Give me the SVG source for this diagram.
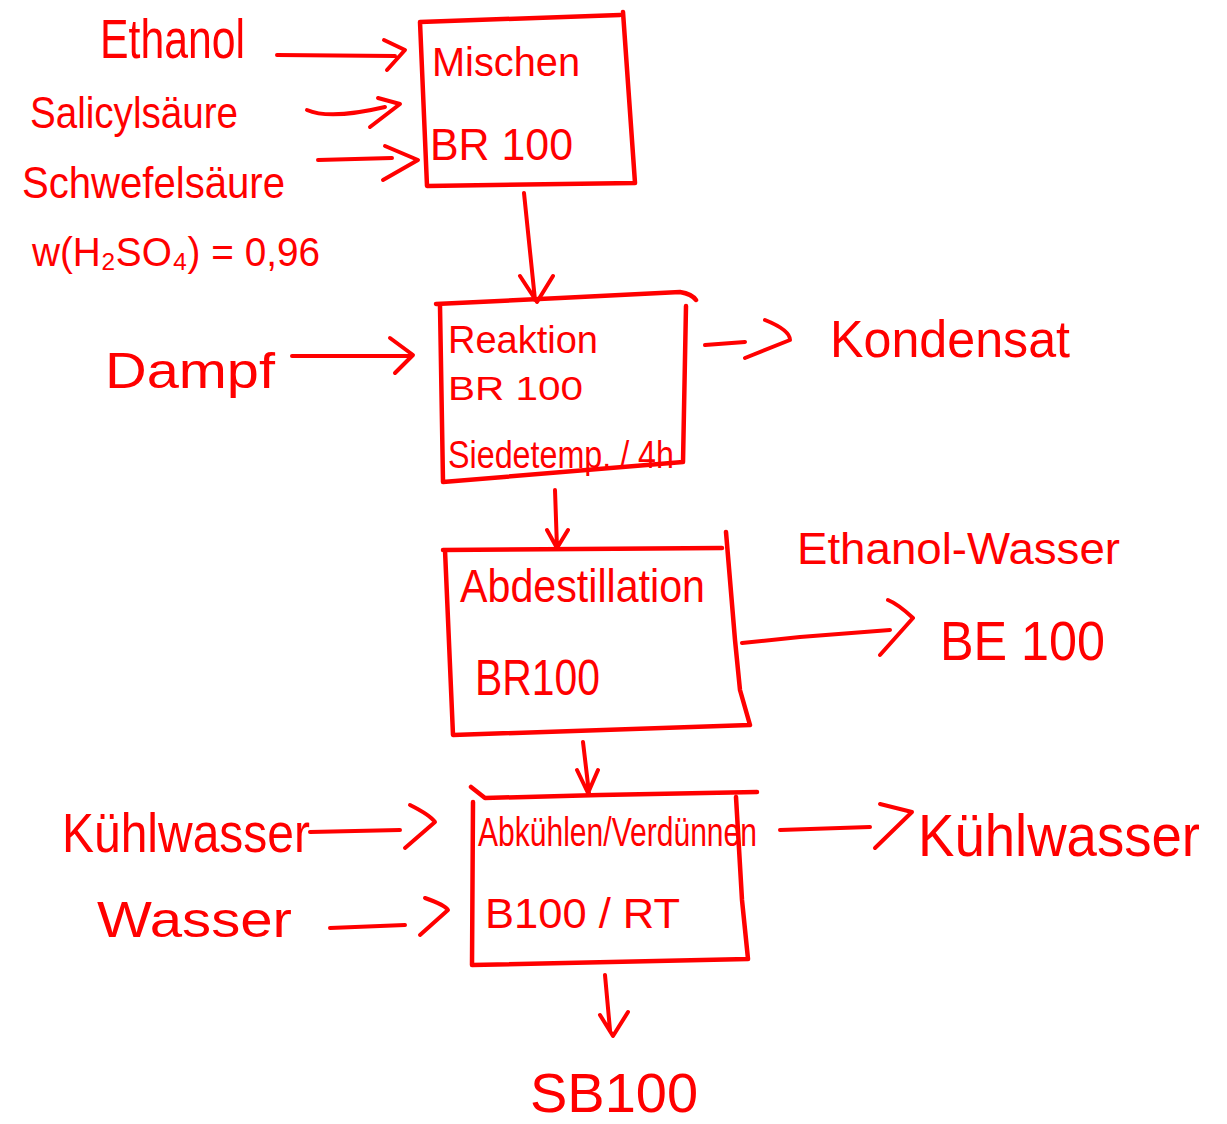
<svg xmlns="http://www.w3.org/2000/svg" width="1227" height="1124" viewBox="0 0 1227 1124">
<style>
.s{fill:none;stroke:#ff0000;stroke-width:4;stroke-linecap:round;stroke-linejoin:round}
.b{fill:none;stroke:#ff0000;stroke-width:4.5;stroke-linecap:round;stroke-linejoin:round}
text{fill:#ff0000;font-family:"Liberation Sans","DejaVu Sans",sans-serif;font-weight:normal}
</style>
<rect width="1227" height="1124" fill="#ffffff"/>
<g id="inputs">
<text x="100" y="58" font-size="55" textLength="145" lengthAdjust="spacingAndGlyphs">Ethanol</text>
<text x="30" y="128" font-size="44" textLength="208" lengthAdjust="spacingAndGlyphs">Salicylsäure</text>
<text x="22" y="198" font-size="44" textLength="263" lengthAdjust="spacingAndGlyphs">Schwefelsäure</text>
<text x="32" y="266" font-size="40" textLength="288" lengthAdjust="spacingAndGlyphs">w(H₂SO₄) = 0,96</text>
<text x="105" y="388" font-size="50" textLength="170" lengthAdjust="spacingAndGlyphs">Dampf</text>
<text x="62" y="852" font-size="55" textLength="248" lengthAdjust="spacingAndGlyphs">Kühlwasser</text>
<text x="97" y="937" font-size="50" textLength="195" lengthAdjust="spacingAndGlyphs">Wasser</text>
</g>
<g id="outputs">
<text x="830" y="357" font-size="52" textLength="240" lengthAdjust="spacingAndGlyphs">Kondensat</text>
<text x="797" y="564" font-size="44" textLength="323" lengthAdjust="spacingAndGlyphs">Ethanol-Wasser</text>
<text x="940" y="660" font-size="56" textLength="165" lengthAdjust="spacingAndGlyphs">BE 100</text>
<text x="918" y="856" font-size="60" textLength="282" lengthAdjust="spacingAndGlyphs">Kühlwasser</text>
<text x="530" y="1112" font-size="56" textLength="168" lengthAdjust="spacingAndGlyphs">SB100</text>
</g>
<g id="mischen">
<path class="b" d="M420 22 L620 15 M420 22 L427 186 L635 183 M623 12 L635 183"/>
<text x="432" y="76" font-size="40" textLength="148" lengthAdjust="spacingAndGlyphs">Mischen</text>
<text x="430" y="160" font-size="44" textLength="143" lengthAdjust="spacingAndGlyphs">BR 100</text>
</g>
<g id="reaktion">
<path class="b" d="M436 304 L560 298 L680 292 Q692 294 696 300 M440 306 L443 482 L683 462 M686 306 L683 462"/>
<text x="448" y="353" font-size="38" textLength="150" lengthAdjust="spacingAndGlyphs">Reaktion</text>
<text x="448" y="400" font-size="34" textLength="135" lengthAdjust="spacingAndGlyphs">BR 100</text>
<text x="448" y="468" font-size="38" textLength="226" lengthAdjust="spacingAndGlyphs">Siedetemp. / 4h</text>
</g>
<g id="abdestillation">
<path class="b" d="M443 550 L722 548 M445 550 L453 735 L750 725 M726 532 L735 640 L740 690 L750 725"/>
<text x="460" y="602" font-size="46" textLength="245" lengthAdjust="spacingAndGlyphs">Abdestillation</text>
<text x="475" y="695" font-size="50" textLength="125" lengthAdjust="spacingAndGlyphs">BR100</text>
</g>
<g id="abkuehlen">
<path class="b" d="M471 787 L485 798 L600 795 L757 792 M473 802 L472 965 L748 959 M736 797 L742 900 L748 959"/>
<text x="478" y="846" font-size="40" textLength="279" lengthAdjust="spacingAndGlyphs">Abkühlen/Verdünnen</text>
<text x="485" y="928" font-size="42" textLength="195" lengthAdjust="spacingAndGlyphs">B100 / RT</text>
</g>
<g id="connectors">
<path class="s" d="M277 55 L395 56 M384 40 L405 50 L387 70"/>
<path class="s" d="M307 110 Q330 120 385 107 M378 98 L400 104 L370 127"/>
<path class="s" d="M318 160 L392 158 M385 146 L418 160 L383 180"/>
<path class="s" d="M524 193 L535 300 M520 276 L537 302 L553 276"/>
<path class="s" d="M292 356 L410 356 M390 338 L413 355 L395 373"/>
<path class="s" d="M705 345 L745 342 M765 320 Q790 330 790 340 L745 358"/>
<path class="s" d="M555 490 L557 548 M547 530 L557 548 L568 530"/>
<path class="s" d="M742 643 L800 637 L890 630 M888 600 Q898 604 913 618 L880 655"/>
<path class="s" d="M583 742 L589 793 M577 770 L588 793 L598 770"/>
<path class="s" d="M310 832 L400 830 M410 805 Q430 815 435 822 L405 848"/>
<path class="s" d="M330 928 L405 925 M425 898 Q445 905 448 910 L420 935"/>
<path class="s" d="M780 830 L870 827 M880 804 L912 812 L875 848"/>
<path class="s" d="M605 975 L610 1030 M600 1015 L613 1036 L628 1012"/>
</g>
</svg>
